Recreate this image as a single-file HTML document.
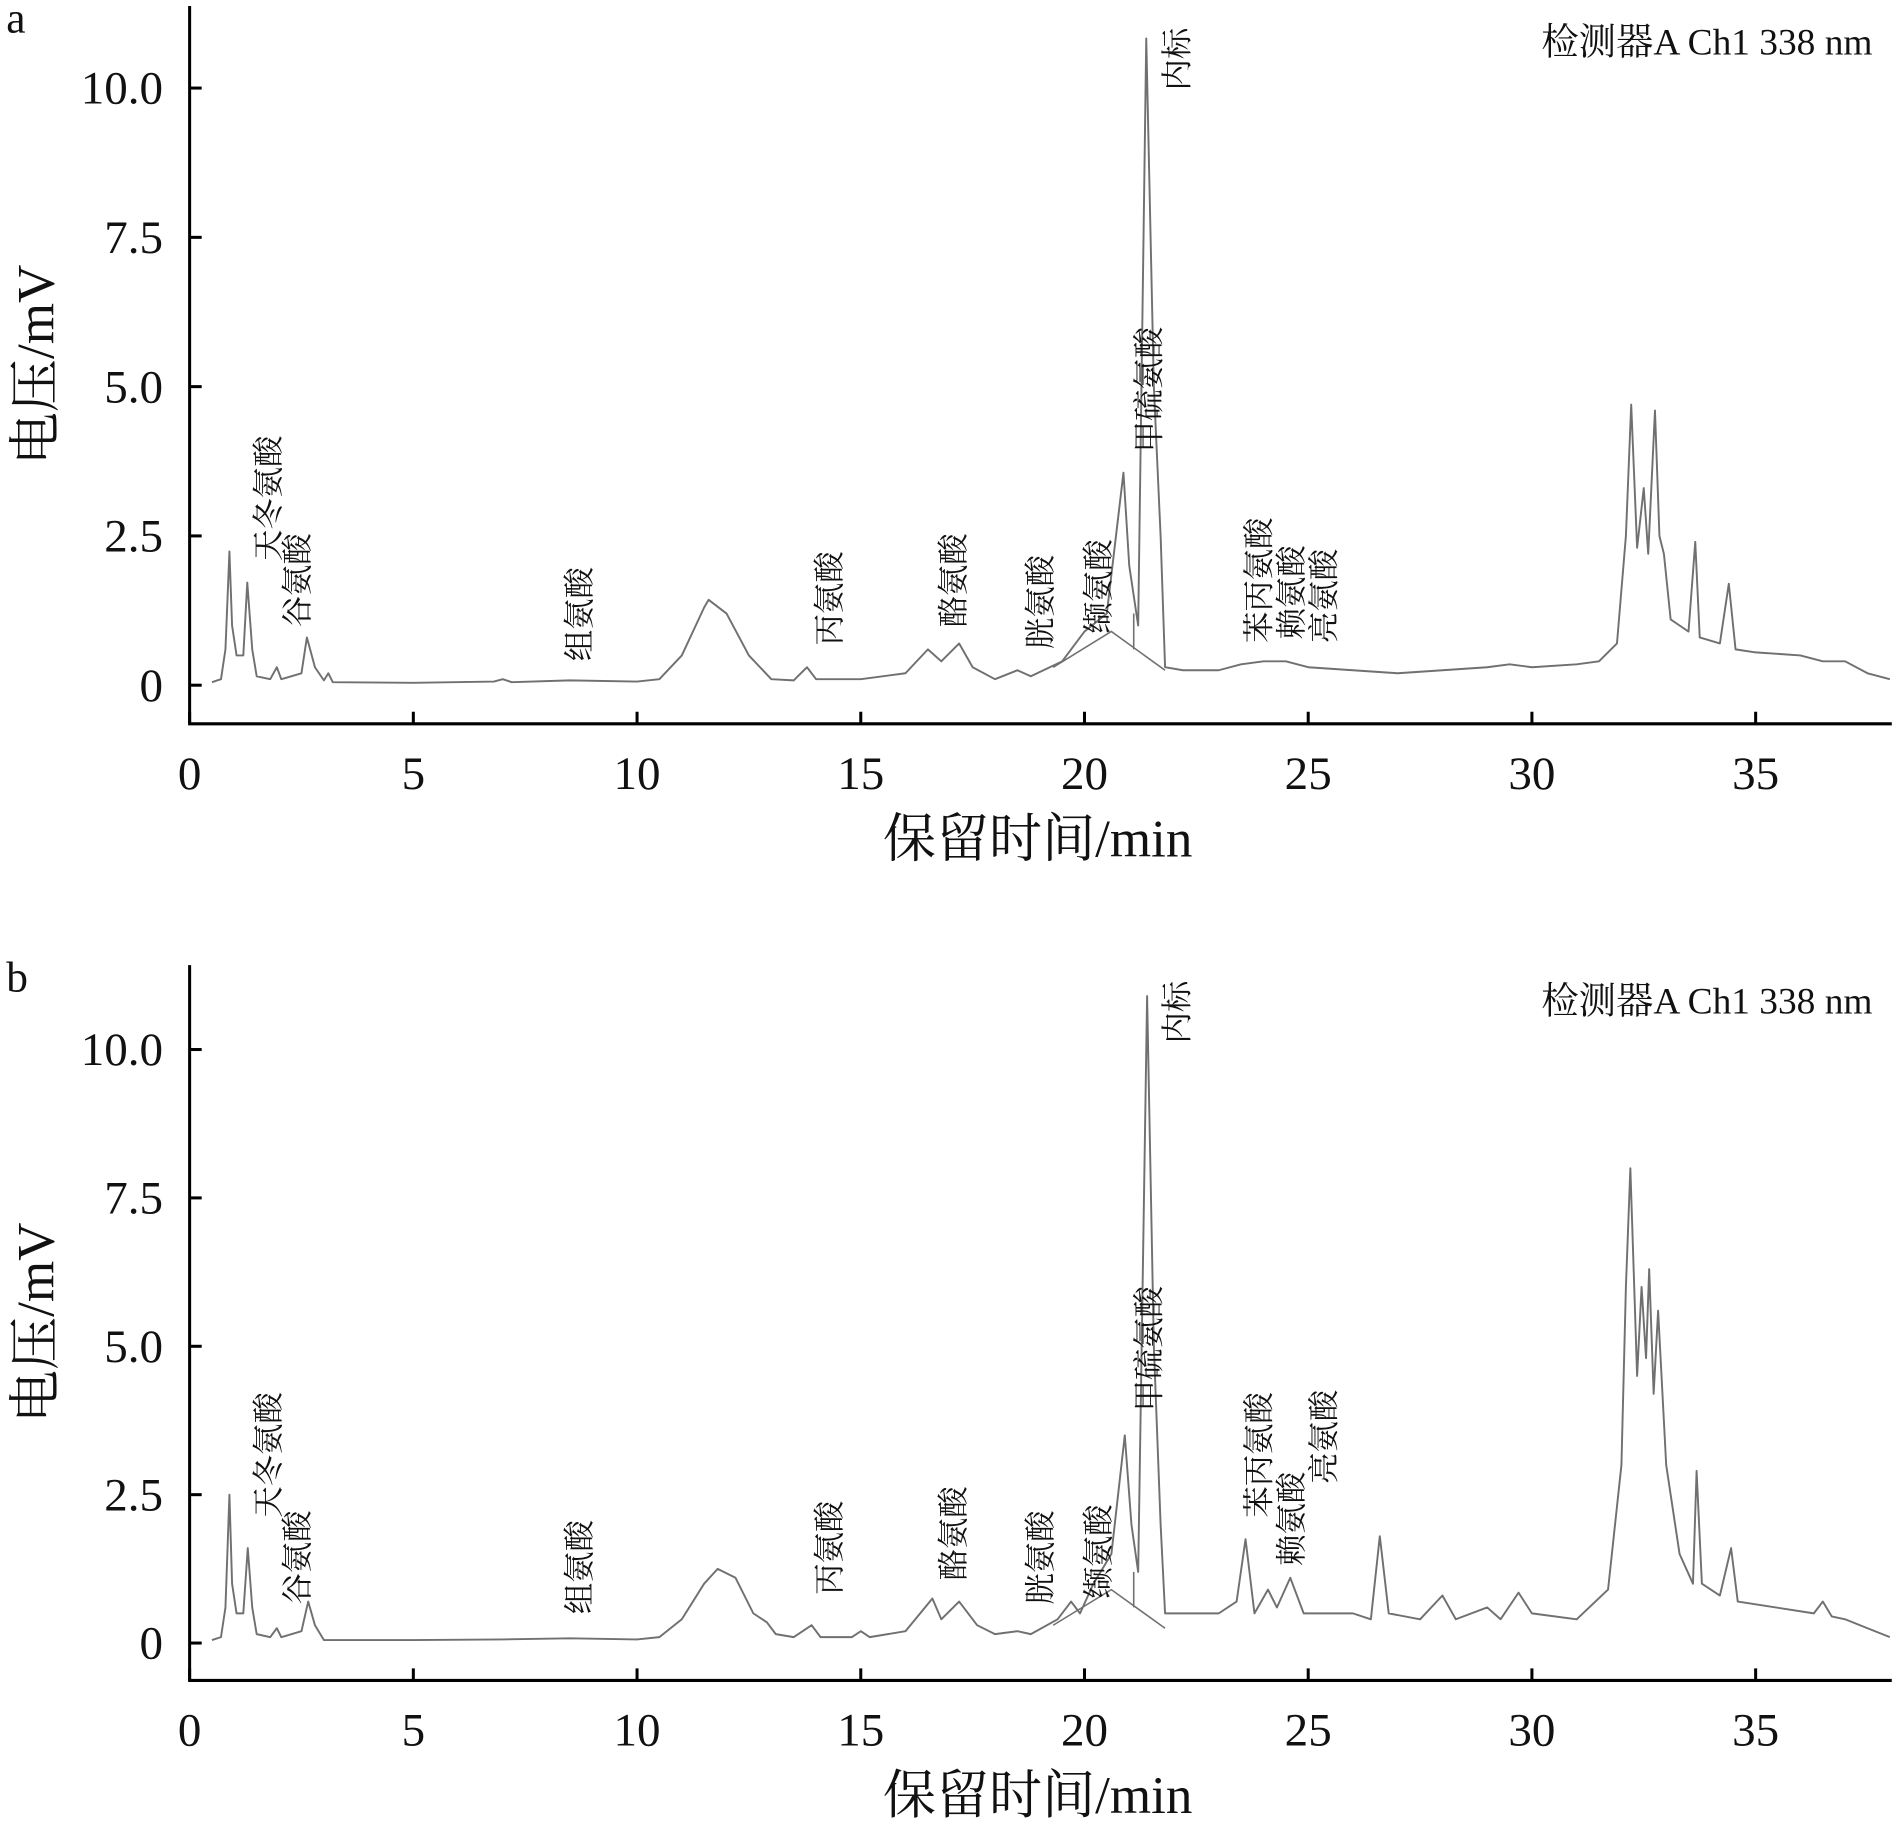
<!DOCTYPE html>
<html><head><meta charset="utf-8"><style>
html,body{margin:0;padding:0;background:#fff}
svg{display:block}
text{font-family:"Liberation Serif","Noto Serif CJK SC",serif;fill:#111}
.cjk{font-family:"Liberation Serif","Noto Serif CJK SC","Noto Sans CJK SC",serif}
</style></head><body>
<svg id="chart" width="1892" height="1824" viewBox="0 0 1568 1512" xmlns="http://www.w3.org/2000/svg"></svg>
<script>
const xTicks=[0,5,10,15,20,25,30,35];
const yTicks=[0,2.5,5.0,7.5,10.0];
const yTickLabels=["0","2.5","5.0","7.5","10.0"];
const aTimes=[0.5,0.7,0.8,0.89,0.95,1.05,1.2,1.29,1.4,1.5,1.8,1.95,2.05,2.5,2.62,2.8,3.0,3.1,3.2,5,6.8,7,7.2,8.5,10,10.5,11,11.5,11.6,12,12.5,13,13.5,13.8,14,15,16,16.5,16.8,17.2,17.5,18,18.5,18.8,19.5,20,20.5,20.87,21.0,21.2,21.38,21.55,21.7,21.8,22.2,23,23.5,24,24.5,25,26,27,28,29,29.5,30,31,31.5,31.9,32.1,32.22,32.35,32.5,32.6,32.75,32.85,32.95,33.1,33.3,33.5,33.65,33.75,34.2,34.4,34.55,35,36,36.5,37,37.5,38];
const aVals=[0.05,0.1,0.6,2.24,1.0,0.5,0.5,1.72,0.6,0.15,0.1,0.3,0.1,0.2,0.8,0.3,0.08,0.2,0.05,0.04,0.06,0.1,0.05,0.08,0.06,0.1,0.5,1.3,1.43,1.2,0.5,0.1,0.08,0.3,0.1,0.1,0.2,0.6,0.4,0.7,0.3,0.1,0.25,0.15,0.4,0.9,1.2,3.56,2.0,1.0,10.83,5.0,2.5,0.3,0.25,0.25,0.35,0.4,0.4,0.3,0.25,0.2,0.25,0.3,0.35,0.3,0.35,0.4,0.7,2.5,4.7,2.3,3.3,2.2,4.6,2.5,2.2,1.1,1.0,0.9,2.4,0.8,0.7,1.7,0.6,0.55,0.5,0.4,0.4,0.2,0.1];
const bTimes=[0.5,0.7,0.8,0.89,0.95,1.05,1.2,1.3,1.4,1.5,1.8,1.95,2.05,2.5,2.65,2.8,3.0,5,7,8.5,10,10.5,11,11.5,11.8,12.2,12.6,12.9,13.1,13.5,13.9,14.1,14.8,15,15.2,16,16.6,16.8,17.2,17.6,18,18.5,18.8,19.4,19.7,19.9,20.2,20.6,20.9,21.05,21.2,21.4,21.55,21.7,21.8,22.2,23,23.4,23.6,23.8,24.1,24.3,24.6,24.9,25.2,26,26.4,26.6,26.8,27.5,28,28.3,29,29.3,29.7,30,31,31.7,32.0,32.1,32.2,32.35,32.45,32.55,32.62,32.72,32.82,33.0,33.3,33.6,33.68,33.8,34.2,34.45,34.6,36.3,36.5,36.7,37,37.5,38];
const bVals=[0.05,0.1,0.6,2.5,1.0,0.5,0.5,1.6,0.6,0.15,0.1,0.25,0.1,0.2,0.7,0.3,0.05,0.05,0.06,0.08,0.06,0.1,0.4,1.0,1.25,1.1,0.5,0.35,0.15,0.1,0.3,0.1,0.1,0.2,0.1,0.2,0.75,0.4,0.7,0.3,0.15,0.2,0.15,0.4,0.7,0.5,1.0,1.5,3.5,2.0,1.2,10.9,5.0,2.0,0.5,0.5,0.5,0.7,1.75,0.5,0.9,0.6,1.1,0.5,0.5,0.5,0.4,1.8,0.5,0.4,0.8,0.4,0.6,0.4,0.85,0.5,0.4,0.9,3.0,6.0,8.0,4.5,6.0,4.8,6.3,4.2,5.6,3.0,1.5,1.0,2.9,1.0,0.8,1.6,0.7,0.5,0.7,0.45,0.4,0.25,0.1];
const compoundNames=["天冬氨酸","谷氨酸","组氨酸","丙氨酸","酪氨酸","胱氨酸","缬氨酸","甲硫氨酸","内标","苯丙氨酸","赖氨酸","亮氨酸"];
const labelXA=[222,246,480,687,790,862,910,952,975,1043,1070,1097];
const labelYA=[465,520,548,535,520,538,525,375,75,533,530,533];
const labelXB=[222,246,480,687,790,862,910,952,975,1043,1070,1097];
const labelYB=[1258,1330,1338,1322,1310,1330,1325,1170,865,1258,1298,1230];
const NS="http://www.w3.org/2000/svg";
const svg=document.getElementById('chart');
function mk(tag,attrs,parent){const e=document.createElementNS(NS,tag);for(const k in attrs)e.setAttribute(k,attrs[k]);(parent||svg).appendChild(e);return e;}
function panel(key,axisY,zeroY,pxPerUnit,topY,times,vals,lx,ly,tag){
  const g=mk('g',{});
  
  
  const x0=157,pxMin=37.09;
  const X=t=>x0+t*pxMin, Y=v=>zeroY-v*pxPerUnit;
  const ax=mk('path',{d:`M${x0},${topY} V${axisY} H1568`,stroke:'#000','stroke-width':2.5,fill:'none'},g);
  
  
  xTicks.forEach(t=>{
    mk('line',{x1:X(t),x2:X(t),y1:axisY,y2:axisY-10,stroke:'#000','stroke-width':2.5},g);
    const tx=mk('text',{x:X(t),y:axisY+54,'text-anchor':'middle','font-size':39},g);
    tx.textContent=t;
    
    
  });
  yTicks.forEach((v,i)=>{
    mk('line',{x1:x0,x2:x0+10,y1:Y(v),y2:Y(v),stroke:'#000','stroke-width':2.5},g);
    const tx=mk('text',{x:x0-22,y:Y(v)+13,'text-anchor':'end','font-size':39},g);
    tx.textContent=yTickLabels[i];
    
    
  });
  const xt=mk('text',{x:860,y:axisY+110,'text-anchor':'middle','font-size':44,class:'cjk'},g);
  xt.textContent='保留时间/min';
  
  
  const ym=(topY+axisY)/2;
  const yt=mk('text',{x:0,y:0,'text-anchor':'middle','font-size':44,class:'cjk',transform:`translate(44,${ym}) rotate(-90)`},g);
  yt.textContent='电压/mV';
  
  
  const pl=mk('text',{x:5,y:topY+22,'font-size':36},g);
  pl.textContent=tag;
  
  
  const det=mk('text',{x:1552,y:topY+40,'text-anchor':'end','font-size':31,class:'cjk'},g);
  det.textContent='检测器A Ch1 338 nm';
  
  
  let d='';
  times.forEach((t,i)=>{d+=(i?'L':'M')+X(t).toFixed(1)+','+Y(vals[i]).toFixed(1)+' ';});
  const tr=mk('path',{d:d,stroke:'#707070','stroke-width':1.6,fill:'none','stroke-linejoin':'round'},g);
  
  
  mk('path',{d:`M${X(19.3)},${Y(0.3)} L${X(20.6)},${Y(0.9)} L${X(21.8)},${Y(0.25)} M${X(21.1)},${Y(1.2)} V${Y(0.6)}`,stroke:'#707070','stroke-width':1.3,fill:'none'},g);
  compoundNames.forEach((n,i)=>{
    const lt=mk('text',{x:0,y:0,'font-size':26,class:'cjk',transform:`translate(${lx[i]+9},${ly[i]}) rotate(-90)`},g);
    lt.textContent=n;
    
    
  });
}
panel('a',600,568,49.5,5,aTimes,aVals,labelXA,labelYA,'a');
panel('b',1393,1362,49.2,800,bTimes,bVals,labelXB,labelYB,'b');
</script>
</body></html>
